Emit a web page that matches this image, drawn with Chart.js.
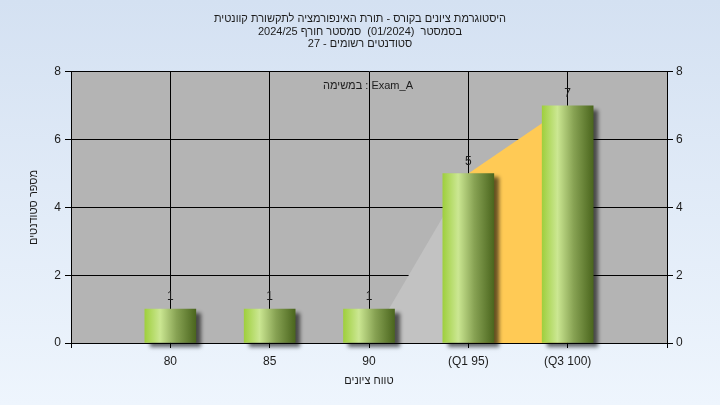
<!DOCTYPE html>
<html>
<head>
<meta charset="utf-8">
<script src="https://cdn.jsdelivr.net/npm/chart.js@4"></script>
<style>
  html, body { margin: 0; padding: 0; }
  body { width: 720px; height: 405px; background: linear-gradient(to bottom, #d4e1f2 0%, #eef5fd 100%); }
  #wrap { width: 720px; height: 405px; position: relative; }
</style>
</head>
<body>
<div id="wrap"><canvas id="c" width="720" height="405"></canvas></div>
<script>
// ---- data ----
const categories = ['', '80', '85', '90', '(Q1 95)', '(Q3 100)', ''];
const studentCounts = [null, 1, 1, 1, 5, 7, null];
const belowQ1Band = [null, null, null, 0, 5, null, null];
const interQuartileBand = [null, null, null, null, 5, 7, null];
const titleLines = [
  '\u202Bהיסטוגרמת ציונים בקורס - תורת האינפורמציה לתקשורת קוונטית\u202C',
  '\u202Bבסמסטר  (01/2024)  סמסטר חורף 2024/25\u202C',
  '\u202Bסטודנטים רשומים - 27\u202C'
];
const taskLabel = 'במשימה : Exam_A';
const yAxisTitle = 'מספר סטודנטים';
const xAxisTitle = 'טווח ציונים';
const yMin = 0, yMax = 8, yStep = 2;

const FONT = '"Liberation Sans", Arial, sans-serif';
const TXT = '#1c1c1c';

function barGradient(ctx) {
  const chart = ctx.chart;
  const area = chart.chartArea;
  if (!area || ctx.raw == null) return '#8fbf3f';
  const xs = chart.scales.x;
  const cx = xs.getPixelForValue(ctx.dataIndex);
  const half = 25.5;
  const g = chart.ctx.createLinearGradient(cx - half, 0, cx + half, 0);
  g.addColorStop(0, '#9fcf3e');
  g.addColorStop(0.3, '#cbe792');
  g.addColorStop(0.62, '#87a253');
  g.addColorStop(1, '#4b661e');
  return g;
}

const plotBg = {
  id: 'plotBg',
  beforeDraw(chart) {
    const {ctx, chartArea: a} = chart;
    ctx.save();
    ctx.fillStyle = '#b4b4b4';
    ctx.fillRect(a.left, a.top, a.right - a.left, a.bottom - a.top);
    ctx.restore();
  }
};

const barShadow = {
  id: 'barShadow',
  beforeDatasetDraw(chart, args) {
    if (args.index !== 0) return;
    const ctx = chart.ctx;
    ctx.save();
    ctx.shadowColor = 'rgba(0,0,0,0.6)';
    ctx.shadowBlur = 4;
    ctx.shadowOffsetX = 5;
    ctx.shadowOffsetY = 4;
  },
  afterDatasetDraw(chart, args) {
    if (args.index !== 0) return;
    chart.ctx.restore();
  }
};

const labelsPlugin = {
  id: 'labelsPlugin',
  afterDatasetsDraw(chart) {
    const ctx = chart.ctx;
    const meta = chart.getDatasetMeta(0);
    ctx.save();
    ctx.font = '12px ' + FONT;
    ctx.fillStyle = TXT;
    ctx.textAlign = 'center';
    ctx.textBaseline = 'middle';
    meta.data.forEach((bar, i) => {
      const v = studentCounts[i];
      if (v == null) return;
      ctx.fillText(String(v), bar.x, bar.y - 12);
    });
    const a = chart.chartArea;
    ctx.font = '11px ' + FONT;
    ctx.fillText(taskLabel, (a.left + a.right) / 2 - 1, a.top + 14);
    ctx.restore();
  }
};

new Chart(document.getElementById('c'), {
  type: 'bar',
  data: {
    labels: categories,
    datasets: [
      {
        type: 'bar',
        data: studentCounts,
        backgroundColor: barGradient,
        borderWidth: 0,
        barThickness: 51,
        clip: false,
        order: 0,
        yAxisID: 'y'
      },
      {
        type: 'line',
        data: belowQ1Band,
        fill: 'origin',
        backgroundColor: '#c2c2c2',
        borderWidth: 0,
        pointRadius: 0,
        order: 2,
        yAxisID: 'y'
      },
      {
        type: 'line',
        data: interQuartileBand,
        fill: 'origin',
        backgroundColor: '#ffca55',
        borderWidth: 0,
        pointRadius: 0,
        order: 1,
        yAxisID: 'y'
      }
    ]
  },
  options: {
    responsive: false,
    animation: false,
    layout: { padding: 0 },
    plugins: {
      legend: { display: false },
      tooltip: { enabled: false },
      title: {
        display: true,
        text: titleLines,
        color: TXT,
        font: { family: FONT, size: 11, weight: 'normal', lineHeight: 1.12 },
        padding: { top: 13, bottom: 22 }
      }
    },
    scales: {
      x: {
        offset: false,
        grid: { offset: false, color: '#000', lineWidth: 1, tickLength: 5, tickColor: '#000' },
        border: { color: '#000', width: 1 },
        ticks: { color: TXT, font: { family: FONT, size: 12 }, padding: 6, maxRotation: 0, autoSkip: false },
        title: { display: true, text: xAxisTitle, color: TXT, font: { family: FONT, size: 11 }, padding: { top: 0, bottom: 17 } },
        afterFit(s) { s.height = 62; }
      },
      y: {
        position: 'left',
        min: yMin, max: yMax,
        ticks: { stepSize: yStep, color: TXT, font: { family: FONT, size: 12 }, padding: 4 },
        grid: { color: '#000', lineWidth: 1, tickLength: 6, tickColor: '#000' },
        border: { color: '#000', width: 1 },
        title: { display: true, text: yAxisTitle, color: TXT, font: { family: FONT, size: 11 }, padding: { top: 27, bottom: 0 } },
        afterFit(s) { s.width = 71; }
      },
      y2: {
        position: 'right',
        min: yMin, max: yMax,
        ticks: { stepSize: yStep, color: TXT, font: { family: FONT, size: 12 }, padding: 3 },
        grid: { drawOnChartArea: false, color: '#000', tickLength: 6, tickColor: '#000' },
        border: { color: '#000', width: 1 },
        afterFit(s) { s.width = 53; }
      }
    }
  },
  plugins: [plotBg, barShadow, labelsPlugin]
});
</script>
</body>
</html>
